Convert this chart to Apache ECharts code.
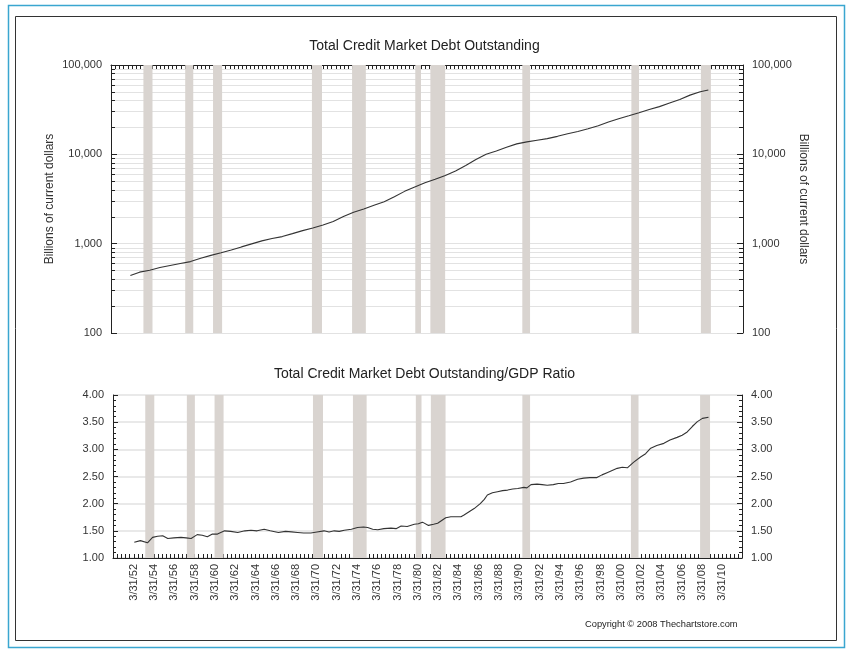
<!DOCTYPE html>
<html>
<head>
<meta charset="utf-8">
<script src="https://cdn.jsdelivr.net/npm/echarts@6/dist/echarts.min.js"></script>
<style>html,body{margin:0;padding:0;background:#fff;}#c{width:849px;height:650px;}</style>
</head>
<body>
<div id="c"></div>
<script>
// ---------- DATA ----------
var debtYears = [1952.1,1953,1954,1955,1956,1957,1958,1959,1960,1961,1962,1963,1964,1965,1966,1967,1968,1969,1970,1971,1972,1973,1974,1975,1976,1977,1978,1979,1980,1981,1982,1983,1984,1985,1986,1987,1988,1989,1990,1991,1992,1993,1994,1995,1996,1997,1998,1999,2000,2001,2002,2003,2004,2005,2006,2007,2008,2008.8];
var debtValues = [440,480,505,540,570,600,630,685,740,790,850,920,995,1075,1140,1200,1295,1400,1500,1620,1770,2010,2250,2440,2690,2950,3350,3850,4320,4800,5250,5800,6500,7500,8750,10000,10900,12000,13100,13800,14400,15000,15900,17000,18000,19300,20900,23000,25000,27000,29200,31700,34200,37600,41200,46000,50200,52500];

var ratioYears = [1952.3,1952.9,1953.6,1954.1,1954.6,1955.1,1955.6,1956.2,1956.9,1957.4,1957.9,1958.5,1959.0,1959.5,1960.0,1960.5,1961.2,1961.8,1962.5,1963.2,1963.8,1964.4,1965.1,1965.7,1966.5,1967.2,1967.8,1968.4,1969.0,1969.7,1970.3,1971.0,1971.5,1972.0,1972.5,1973.0,1973.7,1974.3,1974.9,1975.3,1975.8,1976.3,1976.9,1977.6,1978.1,1978.6,1979.2,1979.9,1980.3,1980.7,1981.3,1981.8,1982.2,1982.6,1983.0,1983.5,1984.0,1984.5,1984.8,1985.3,1985.8,1986.4,1986.8,1987.1,1987.6,1988.1,1988.6,1989.1,1989.6,1990.1,1990.7,1991.0,1991.4,1992.0,1992.5,1993.0,1993.6,1994.1,1994.6,1995.3,1996.0,1996.6,1997.2,1997.9,1998.4,1998.9,1999.4,1999.9,2000.4,2000.9,2001.5,2002.2,2002.7,2003.2,2003.8,2004.5,2005.1,2005.8,2006.3,2006.8,2007.3,2007.8,2008.3,2008.9];
var ratioValues = [1.29,1.32,1.28,1.38,1.40,1.41,1.36,1.37,1.38,1.37,1.36,1.43,1.42,1.39,1.44,1.44,1.50,1.49,1.47,1.50,1.51,1.50,1.53,1.50,1.47,1.49,1.48,1.47,1.46,1.46,1.48,1.50,1.48,1.50,1.49,1.51,1.53,1.56,1.57,1.56,1.53,1.52,1.54,1.55,1.54,1.59,1.58,1.62,1.63,1.66,1.60,1.62,1.64,1.69,1.74,1.76,1.76,1.76,1.79,1.85,1.91,2.00,2.08,2.16,2.20,2.22,2.24,2.25,2.27,2.28,2.30,2.29,2.35,2.36,2.35,2.34,2.35,2.37,2.37,2.40,2.45,2.47,2.48,2.48,2.53,2.57,2.61,2.65,2.67,2.66,2.76,2.86,2.92,3.02,3.07,3.11,3.17,3.22,3.26,3.32,3.42,3.51,3.57,3.59];

var recessionStarts = [1953.38,1957.48,1960.21,1969.91,1973.85,1980.05,1981.53,1990.55,2001.25,2008.07];
var recessionEnds   = [1954.27,1958.27,1961.10,1970.90,1975.20,1980.61,1982.98,1991.31,2002.00,2009.05];

var xTickLabels = ['3/31/52','3/31/54','3/31/56','3/31/58','3/31/60','3/31/62','3/31/64','3/31/66','3/31/68','3/31/70','3/31/72','3/31/74','3/31/76','3/31/78','3/31/80','3/31/82','3/31/84','3/31/86','3/31/88','3/31/90','3/31/92','3/31/94','3/31/96','3/31/98','3/31/00','3/31/02','3/31/04','3/31/06','3/31/08','3/31/10'];
var debtTickLabels = ['100','1,000','10,000','100,000'];
var ratioTickLabels = ['1.00','1.50','2.00','2.50','3.00','3.50','4.00'];

// ---------- DERIVED ----------
function labelToYear(s){ var yy = parseInt(s.split('/')[2],10); return (yy < 20 ? 2000 + yy : 1900 + yy) + 0.25; }
var xLabelPos = xTickLabels.map(labelToYear);
var X_MIN = 1950.2, X_MAX = 2012.2;
var xMinorTicks = [];
for (var t = 1950.25; t <= X_MAX; t += 0.4) xMinorTicks.push(Math.round(t*1000)/1000);
var logMinor = [];
for (var n = 2; n <= 4; n++) for (var k = 1; k <= 9; k++) logMinor.push(n + Math.log10(k));
logMinor.push(5);

var debtData = debtYears.map(function(y,i){ return [y, debtValues[i]]; });
var ratioData = ratioYears.map(function(y,i){ return [y, ratioValues[i]]; });
var bands = recessionStarts.map(function(s,i){ return [{xAxis: s}, {xAxis: recessionEnds[i]}]; });

var FONT = 'Liberation Sans, Arial, sans-serif';
var AX = '#222';
var GRIDC = '#e2e2e2';
var BANDC = '#d9d4d0';

var chart = echarts.init(document.getElementById('c'), null, {renderer:'canvas'});
chart.setOption({
  animation: false,
  backgroundColor: '#fff',
  textStyle: {fontFamily: FONT},
  title: [
    {text: 'Total Credit Market Debt Outstanding', left: 'center', top: 34, textStyle: {fontFamily: FONT, fontSize: 14, fontWeight: 'normal', color: '#222'}},
    {text: 'Total Credit Market Debt Outstanding/GDP Ratio', left: 'center', top: 362, textStyle: {fontFamily: FONT, fontSize: 14, fontWeight: 'normal', color: '#222'}}
  ],
  grid: [
    {left: 111, right: 106, top: 65, height: 268},
    {left: 113, right: 107, top: 395, height: 163}
  ],
  xAxis: [
    {gridIndex: 0, type: 'value', position: 'top', min: X_MIN, max: X_MAX,
     axisLine: {show: true, lineStyle: {color: AX, width: 1}},
     axisTick: {show: true, inside: true, length: 4, customValues: xMinorTicks, lineStyle: {color: AX}},
     axisLabel: {show: false}, splitLine: {show: false}},
    {gridIndex: 1, type: 'value', position: 'bottom', min: X_MIN, max: X_MAX,
     axisLine: {show: true, onZero: false, lineStyle: {color: AX, width: 1}},
     axisTick: {show: true, inside: true, length: 4, customValues: xMinorTicks, lineStyle: {color: AX}},
     axisLabel: {show: true, rotate: 90, margin: 6, fontSize: 11, color: '#333', fontFamily: FONT,
       customValues: xLabelPos,
       formatter: function(v){ var i = xLabelPos.findIndex(function(p){ return Math.abs(p - v) < 0.01; }); return i >= 0 ? xTickLabels[i] : ''; }},
     splitLine: {show: false}}
  ],
  yAxis: [
    {gridIndex: 0, type: 'log', logBase: 10, min: 100, max: 100000, position: 'left',
     name: 'Billions of current dollars', nameLocation: 'middle', nameRotate: 90, nameGap: 55, nameMoveOverlap: false,
     nameTextStyle: {fontSize: 12, color: '#333', fontFamily: FONT},
     axisLine: {show: true, lineStyle: {color: AX}},
     axisTick: {show: true, inside: true, length: 6, lineStyle: {color: AX}},
     axisLabel: {fontSize: 11, color: '#333', margin: 9, fontFamily: FONT,
       formatter: function(v){ var i = Math.round(Math.log10(v)) - 2; return debtTickLabels[i] || ''; }},
     splitLine: {show: true, lineStyle: {color: GRIDC}}},
    {gridIndex: 0, type: 'log', logBase: 10, min: 100, max: 100000, position: 'right',
     name: 'Billions of current dollars', nameLocation: 'middle', nameRotate: -90, nameGap: 54, nameMoveOverlap: false,
     nameTextStyle: {fontSize: 12, color: '#333', fontFamily: FONT},
     axisLine: {show: true, lineStyle: {color: AX}},
     axisTick: {show: true, inside: true, length: 6, lineStyle: {color: AX}},
     axisLabel: {fontSize: 11, color: '#333', margin: 9, fontFamily: FONT,
       formatter: function(v){ var i = Math.round(Math.log10(v)) - 2; return debtTickLabels[i] || ''; }},
     splitLine: {show: false}},
    {gridIndex: 0, type: 'value', min: 2, max: 5, position: 'left',
     axisLine: {show: false}, axisLabel: {show: false},
     axisTick: {show: true, inside: true, length: 4, customValues: logMinor, lineStyle: {color: AX}},
     splitLine: {show: true, lineStyle: {color: GRIDC}}},
    {gridIndex: 0, type: 'value', min: 2, max: 5, position: 'right',
     axisLine: {show: false}, axisLabel: {show: false},
     axisTick: {show: true, inside: true, length: 4, customValues: logMinor, lineStyle: {color: AX}},
     splitLine: {show: false}},
    {gridIndex: 1, type: 'value', min: 1, max: 4, interval: 0.5, position: 'left',
     axisLine: {show: true, lineStyle: {color: AX}},
     axisTick: {show: true, inside: true, length: 5, lineStyle: {color: AX}},
     minorTick: {show: true, splitNumber: 5, length: 3, lineStyle: {color: AX}},
     axisLabel: {fontSize: 11, color: '#333', margin: 9, fontFamily: FONT,
       formatter: function(v){ return ratioTickLabels[Math.round((v - 1) / 0.5)] || ''; }},
     splitLine: {show: true, lineStyle: {color: GRIDC, width: 1.5}}},
    {gridIndex: 1, type: 'value', min: 1, max: 4, interval: 0.5, position: 'right',
     axisLine: {show: true, lineStyle: {color: AX}},
     axisTick: {show: true, inside: true, length: 5, lineStyle: {color: AX}},
     minorTick: {show: true, splitNumber: 5, length: 3, lineStyle: {color: AX}},
     axisLabel: {fontSize: 11, color: '#333', margin: 9, fontFamily: FONT,
       formatter: function(v){ return ratioTickLabels[Math.round((v - 1) / 0.5)] || ''; }},
     splitLine: {show: false}}
  ],
  series: [
    {type: 'line', xAxisIndex: 0, yAxisIndex: 0, data: debtData, showSymbol: false, symbol: 'none',
     lineStyle: {color: '#333', width: 1.1}, z: 5,
     markArea: {silent: true, itemStyle: {color: BANDC, opacity: 1}, data: bands}},
    {type: 'line', xAxisIndex: 1, yAxisIndex: 4, data: ratioData, showSymbol: false, symbol: 'none',
     lineStyle: {color: '#333', width: 1.1}, z: 5,
     markArea: {silent: true, itemStyle: {color: BANDC, opacity: 1}, data: bands}}
  ],
  graphic: [
    {type: 'rect', shape: {x: 8.5, y: 5.5, width: 836, height: 642}, style: {fill: 'none', stroke: '#3aa6d0', lineWidth: 1.5}, silent: true},
    {type: 'rect', shape: {x: 15.5, y: 16.5, width: 821, height: 624}, style: {fill: 'none', stroke: '#333', lineWidth: 1}, silent: true},
    {type: 'text', left: 585, top: 620, style: {text: 'Copyright \u00a9 2008 Thechartstore.com', fontSize: 9.3, fill: '#222', fontFamily: FONT}, silent: true}
  ]
});
</script>
</body>
</html>
